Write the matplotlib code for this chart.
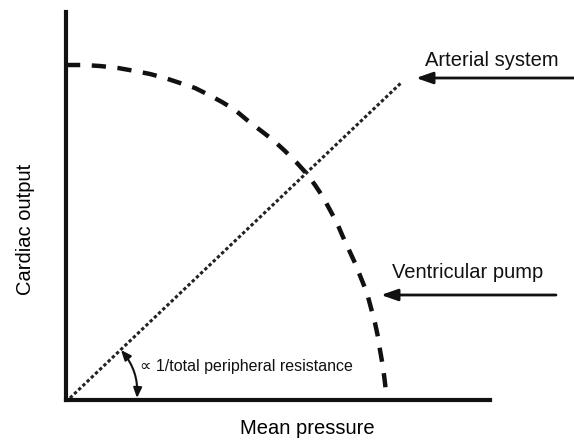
import numpy as np
import matplotlib.pyplot as plt

plt.rcParams['font.family'] = ['Liberation Sans', 'DejaVu Sans']

# ventricular pump curve (mean pressure, cardiac output)
pump_x = [0, 17, 34, 52, 69, 84, 99, 114, 129, 143, 156, 169, 181, 194, 207, 219, 231, 241, 249,
          257, 264, 271, 277, 283, 289, 295, 301, 305, 309, 312, 314, 317, 319, 320, 321]
pump_y = [335, 335, 334, 332, 329, 326, 322, 317, 312, 305, 298, 290, 280, 270, 260, 249, 237, 226, 215,
          203, 190, 177, 163, 150, 137, 122, 107, 92, 77, 63, 50, 33, 17, 8, 0]

# arterial system line
art_x = [4, 336]
art_y = [2, 318]

labels = ['Arterial system', 'Ventricular pump']
arrow_tips = [(350, 322), (315, 105)]
arrow_tails = [(508, 322), (490, 105)]
text_pos = [(359, 340), (326, 128)]

fig = plt.figure(figsize=(5.74, 4.41), dpi=100)
ax = fig.add_axes([66/574, 41/441, 424/574, 388/441])
ax.set_xlim(0, 424)
ax.set_ylim(0, 388)

ax.plot(pump_x, pump_y, color='#111111', lw=3.2, dashes=(3.2, 2.6), solid_capstyle='butt')
ax.plot(art_x, art_y, color='#222222', lw=2.2, dashes=(1.1, 0.8))

for lbl, tip, tail, tp in zip(labels, arrow_tips, arrow_tails, text_pos):
    ax.annotate('', xy=tip, xytext=tail, annotation_clip=False,
                arrowprops=dict(arrowstyle='-|>,head_length=1.0,head_width=0.35',
                                color='#111111', lw=2.0, shrinkA=0, shrinkB=0))
    ax.text(tp[0], tp[1], lbl, fontsize=14.5, ha='left', va='center', color='#111111', clip_on=False)

# angle marker
ax.annotate('', xy=(71, 2), xytext=(55, 50),
            arrowprops=dict(arrowstyle='<|-|>,head_length=0.6,head_width=0.25',
                            color='#111111', lw=1.5, shrinkA=0, shrinkB=0,
                            connectionstyle='arc3,rad=-0.2'))
ax.text(74, 34, '\u221d 1/total peripheral resistance', fontsize=11.5, ha='left', va='center', color='#111111')

for s in ['top', 'right']:
    ax.spines[s].set_visible(False)
for s in ['left', 'bottom']:
    ax.spines[s].set_linewidth(3)
    ax.spines[s].set_color('#111111')
    ax.spines[s].set_capstyle('projecting')
ax.set_xticks([])
ax.set_yticks([])

ax.set_xlabel('Mean pressure', fontsize=14.5, labelpad=14, x=0.57)
ax.set_ylabel('Cardiac output', fontsize=14.5, labelpad=22, y=0.44)

plt.savefig('out.png', dpi=100)
